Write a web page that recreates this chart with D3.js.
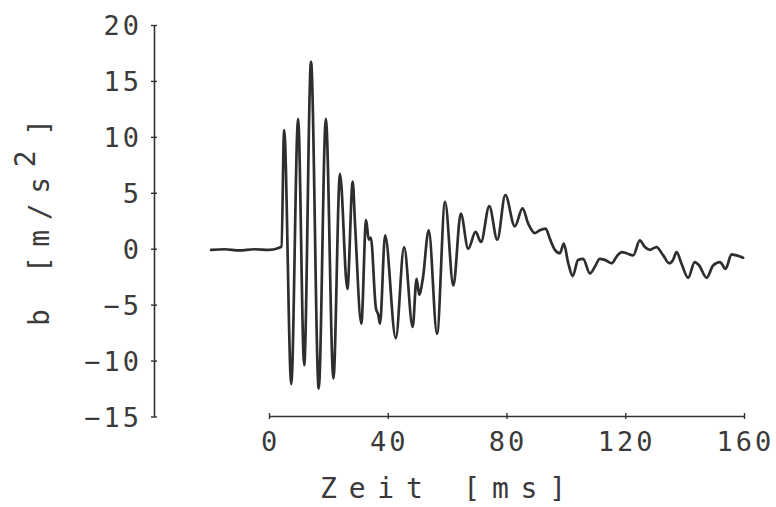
<!DOCTYPE html>
<html>
<head>
<meta charset="utf-8">
<script src="https://cdn.jsdelivr.net/npm/d3@7/dist/d3.min.js"></script>
<style>
  html, body { margin: 0; padding: 0; background: #ffffff; }
  svg { display: block; }
  text { font-family: "DejaVu Sans Mono", "Liberation Mono", monospace; fill: #3a3a3a; }
</style>
</head>
<body>
<svg id="chart" width="776" height="507"></svg>
<script>
// ---- data ----
const timeMs = [
  -19.5, -15, -10, -5, 0, 3, 4.2,
  5.1, 7.5, 9.8, 11.85, 14.15, 16.75, 19.15, 21.7,
  23.9, 26.4, 28.2, 29.0, 31.1, 32.7, 33.6, 34.3, 36.0, 36.8, 37.4,
  39.1, 42.7, 45.5, 48.4, 49.7, 50.6, 51.8, 53.8, 56.6,
  59.3, 62.1, 64.6, 67.1, 69.6, 71.4, 74.2, 76.9, 79.6,
  82.8, 85.4, 87.3, 89.6, 91.2, 93.2, 94.6, 96.3, 98.0, 99.3,
  100.8, 102.3, 104.1, 105.8, 108.1, 109.8, 111.4, 113.1, 115.4, 117.1,
  118.8, 120.4, 122.7, 124.9, 126.6, 128.3, 130.5, 132.8, 134.8, 136.1,
  137.3, 138.9, 141.2, 143.4, 144.9, 147.4, 149.6, 151.9, 153.8, 155.8,
  157.5, 159.7
];
const accel = [
  -0.1, -0.05, -0.15, -0.05, -0.1, 0.05, 0.2,
  10.6, -12.1, 11.6, -10.4, 16.7, -12.5, 11.6, -11.6,
  6.7, -3.6, 6.0, 2.1, -6.7, 2.55, 0.8, 1.0, -5.3, -5.9, -6.7,
  1.2, -8.0, 0.15, -7.0, -2.7, -4.1, -2.7, 1.65, -7.6,
  4.2, -3.3, 3.15, 0.0, 1.5, 0.6, 3.8, 0.8, 4.8,
  2.0, 3.6, 2.25, 1.4, 1.65, 1.8, 0.9, -0.1, -0.4, 0.45,
  -1.3, -2.45, -1.0, -0.9, -2.2, -1.6, -0.9, -1.0, -1.3, -0.7,
  -0.3, -0.4, -0.6, 0.75, 0.15, -0.1, 0.15, -0.6, -1.3, -1.0,
  -0.3, -1.3, -2.6, -1.2, -1.5, -2.6, -1.5, -1.2, -1.8, -0.5,
  -0.6, -0.8
];
const xTicks = [0, 40, 80, 120, 160];
const yTicks = [-15, -10, -5, 0, 5, 10, 15, 20];
const xTitle = "Zeit [ms]";
const yTitleMain = "b [m/s";
const yTitleSup = "2";
const yTitleEnd = "]";

// ---- drawing ----
const svg = d3.select("#chart");
const ink = "#333333";

const x = d3.scaleLinear().domain([0, 160]).range([269, 744]);
const y = d3.scaleLinear().domain([-15, 20]).range([416.5, 25]);

// Y axis
const yAxis = d3.axisLeft(y).tickValues(yTicks).tickSizeInner(3).tickSizeOuter(0).tickPadding(9);
const gy = svg.append("g").attr("transform", "translate(154,0)").call(yAxis);
gy.select(".domain").attr("stroke", ink).attr("stroke-width", 1.6);
gy.selectAll(".tick line").attr("x1", -3).attr("x2", 3).attr("stroke", ink).attr("stroke-width", 1.4);
gy.selectAll(".tick text")
  .attr("font-size", 27).attr("letter-spacing", "3px")
  .attr("fill", "#3a3a3a").attr("dy", "0.36em");

// X axis
const xAxis = d3.axisBottom(x).tickValues(xTicks).tickSizeInner(3).tickSizeOuter(0).tickPadding(13);
const gx = svg.append("g").attr("transform", "translate(0,416)").call(xAxis);
gx.select(".domain").attr("stroke", ink).attr("stroke-width", 1.6);
gx.selectAll(".tick line").attr("y1", -3).attr("y2", 3).attr("stroke", ink).attr("stroke-width", 1.4);
gx.selectAll(".tick text")
  .attr("font-size", 27).attr("letter-spacing", "3px")
  .attr("fill", "#3a3a3a").attr("dx", "1");
svg.selectAll(".tick text").style("font-family", "'DejaVu Sans Mono', monospace");

// Axis titles
svg.append("text")
  .attr("x", 320).attr("y", 498)
  .attr("font-size", 28).attr("letter-spacing", "11.8px")
  .style("white-space", "pre")
  .text(xTitle);

const yt = svg.append("text")
  .attr("transform", "translate(49,326) rotate(-90)")
  .attr("font-size", 28).attr("letter-spacing", "9.6px")
  .style("white-space", "pre");
yt.append("tspan").text(yTitleMain);
yt.append("tspan").attr("dy", -14).text(yTitleSup);
yt.append("tspan").attr("dy", 14).attr("dx", 5).text(yTitleEnd);

// Waveform
const pts = timeMs.map((t, i) => [t, accel[i]]);
const line = d3.line().x(d => x(d[0])).y(d => y(d[1])).curve(d3.curveMonotoneX);
svg.append("path")
  .datum(pts)
  .attr("d", line)
  .attr("fill", "none")
  .attr("stroke", "#2e2e2e")
  .attr("stroke-width", 2.7)
  .attr("stroke-linejoin", "round")
  .attr("stroke-linecap", "round");
</script>
</body>
</html>
